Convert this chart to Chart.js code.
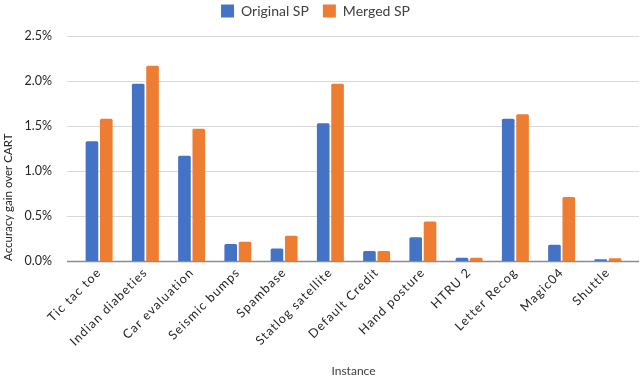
<!DOCTYPE html>
<html>
<head>
<meta charset="utf-8">
<script src="https://cdn.jsdelivr.net/npm/chart.js@4/dist/chart.umd.min.js"></script>
<style>
html,body{margin:0;padding:0;background:#fff;}
#wrap{width:640px;height:378px;position:relative;}
</style>
</head>
<body>
<div id="wrap"><canvas id="c" width="640" height="378"></canvas></div>
<script>
const categories = ["Tic tac toe","Indian diabeties","Car evaluation","Seismic bumps","Spambase","Statlog satellite","Default Credit","Hand posture","HTRU 2","Letter Recog","Magic04","Shuttle"];
const originalSP = [1.33, 1.97, 1.17, 0.19, 0.14, 1.53, 0.11, 0.265, 0.037, 1.58, 0.18, 0.019];
const mergedSP   = [1.58, 2.17, 1.47, 0.215, 0.28, 1.97, 0.11, 0.44, 0.037, 1.63, 0.71, 0.03];
const yTicks = [0, 0.5, 1.0, 1.5, 2.0, 2.5];

const FONT = "Lato, 'Open Sans', sans-serif";

const gridPlugin = {
  id: 'extGrid',
  beforeDraw(chart) { chart.ctx.letterSpacing = '0px'; },
  beforeDatasetsDraw(chart) {
    const ctx = chart.ctx, y = chart.scales.y;
    ctx.save();
    yTicks.forEach(v => {
      const py = Math.round(y.getPixelForValue(v)) + 0.5;
      ctx.beginPath();
      ctx.moveTo(67, py);
      ctx.lineTo(639, py);
      ctx.lineWidth = v === 0 ? 1.5 : 1;
      ctx.strokeStyle = v === 0 ? '#8c8c8c' : '#d9d9d9';
      ctx.stroke();
    });
    ctx.restore();
  },
  afterDatasetsDraw(chart) { chart.ctx.letterSpacing = '1.1px'; },
  afterDraw(chart) { chart.ctx.letterSpacing = '0px'; }
};

new Chart(document.getElementById('c'), {
  type: 'bar',
  data: {
    labels: categories,
    datasets: [
      { label: 'Original SP', data: originalSP, backgroundColor: '#4472C4', borderWidth: 0, borderRadius: 1.5, categoryPercentage: 0.62, barPercentage: 0.88 },
      { label: 'Merged SP', data: mergedSP, backgroundColor: '#ED7D31', borderWidth: 0, borderRadius: 1.5, categoryPercentage: 0.62, barPercentage: 0.88 }
    ]
  },
  options: {
    responsive: false,
    animation: false,
    layout: { padding: { left: 0, right: 9, top: -10, bottom: 0 } },
    plugins: {
      legend: {
        position: 'top',
        labels: { font: { family: FONT, size: 14 }, color: '#404040', boxWidth: 13, boxHeight: 13, padding: 14 }
      },
      subtitle: {
        display: true, position: 'top', weight: 500, text: ' ', font: { size: 1, lineHeight: 1 }, padding: { top: 0, bottom: 7 }
      },
      tooltip: { enabled: false }
    },
    scales: {
      x: {
        grid: { display: false, drawTicks: false },
        border: { display: false },
        ticks: { z: 1, font: { family: FONT, size: 12.5 }, color: '#262626', minRotation: 45, maxRotation: 45, padding: 4 },
        afterFit(s) { s.height = 101; }
      },
      x2: {
        type: 'category', labels: categories, position: 'bottom', weight: 1,
        grid: { display: false, drawTicks: false },
        border: { display: false },
        ticks: { display: false },
        title: { display: true, text: 'Instance', font: { family: FONT, size: 12 }, color: '#404040', padding: 0 },
        afterFit(s) { s.height = 16; }
      },
      y: {
        min: 0, max: 2.5,
        afterBuildTicks(scale) { scale.ticks = yTicks.map(v => ({ value: v })); },
        grid: { display: false },
        border: { display: false },
        ticks: { font: { family: FONT, size: 12.5 }, color: '#262626', padding: 16, callback: v => v.toFixed(1) + '%' },
        afterFit(s) { s.width = 56; }
      },
      y2: {
        type: 'linear', position: 'left', weight: 1,
        min: 0, max: 2.5,
        grid: { display: false },
        border: { display: false },
        ticks: { display: false },
        title: { display: true, align: 'start', text: 'Accuracy gain over CART', font: { family: FONT, size: 11.5 }, color: '#262626', padding: { top: 1, bottom: 0 } },
        afterFit(s) { s.width = 20; }
      }
    }
  },
  plugins: [gridPlugin]
});
</script>
</body>
</html>
